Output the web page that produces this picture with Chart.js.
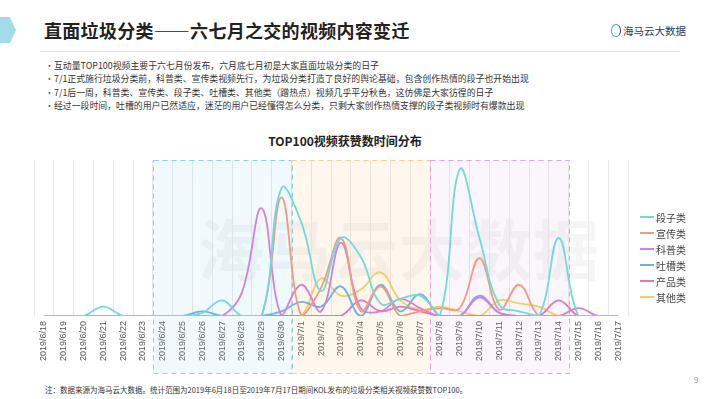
<!DOCTYPE html>
<html lang="zh">
<head>
<meta charset="utf-8">
<script src="https://cdn.jsdelivr.net/npm/chart.js@4.4.1/dist/chart.umd.min.js"></script>
<style>
  body { margin: 0; background: #fff; font-family: "Noto Sans CJK SC", "Noto Sans", sans-serif; }
  #page { position: relative; width: 710px; height: 399px; overflow: hidden; background: #fff; }
  .chevron { position: absolute; left: 0; top: 17px; width: 16px; height: 26px; background: #a3dbe9;
    clip-path: polygon(0 0, 62% 0, 100% 50%, 62% 100%, 0 100%); }
  .title { position: absolute; left: 44px; top: 17px; font-size: 18px; font-weight: 700; color: #222; letter-spacing: 0.3px; }
  .logo { position: absolute; left: 611px; top: 23px; font-size: 10.5px; color: #2c3d5c; display: flex; align-items: center; gap: 2px; }
  .logo i { display: inline-block; width: 8px; height: 11px; border: 1.6px solid #3aa7d3; border-radius: 50%; border-right-color: #2c3d5c; }
  .rule { position: absolute; left: 40px; top: 51px; width: 640px; height: 1px; background: #e3e3e3; }
  .bullets { position: absolute; left: 45px; top: 59px; font-size: 8.9px; color: #333; line-height: 13.4px; }
  .bullets div::before { content: "•"; display: inline-block; width: 9px; color: #555; }
  .ctitle { position: absolute; left: 0; width: 690px; top: 132px; text-align: center; font-size: 12px; font-weight: 700; color: #222; }
  #wrap { position: absolute; left: 0; top: 128px; width: 710px; height: 252px; }
  .wm { position: absolute; left: 198px; top: 198px; font-size: 66px; font-weight: 700; color: rgba(0,0,0,0.04); letter-spacing: 1px; pointer-events: none; }
  .legend { position: absolute; left: 640px; top: 209px; font-size: 10px; color: #444; }
  .legend div { height: 16px; display: flex; align-items: center; }
  .legend span { display: inline-block; width: 14px; height: 2px; margin-right: 2px; }
  .note { position: absolute; left: 45px; top: 384px; font-size: 7.5px; color: #333; }
  .pnum { position: absolute; left: 694px; top: 374px; font-size: 8px; color: #999; }
</style>
</head>
<body>
<div id="page">
  <div class="chevron"></div>
  <div class="title">直面垃圾分类——六七月之交的视频内容变迁</div>
  <div class="logo"><i></i>海马云大数据</div>
  <div class="rule"></div>
  <div class="bullets">
    <div>互动量TOP100视频主要于六七月份发布，六月底七月初是大家直面垃圾分类的日子</div>
    <div>7/1正式施行垃圾分类前，科普类、宣传类视频先行，为垃圾分类打造了良好的舆论基础，包含创作热情的段子也开始出现</div>
    <div>7/1后一周，科普类、宣传类、段子类、吐槽类、其他类（蹭热点）视频几乎平分秋色，这仿佛是大家彷徨的日子</div>
    <div>经过一段时间，吐槽的用户已然适应，迷茫的用户已经懂得怎么分类，只剩大家创作热情支撑的段子类视频时有爆款出现</div>
  </div>
  <div class="ctitle">TOP100视频获赞数时间分布</div>
  <div class="wm">海马云大数据</div>
  <div id="wrap"><canvas id="c"></canvas></div>
  <div class="legend" id="legend"></div>
  <div class="note">注：数据来源为海马云大数据。统计范围为2019年6月18日至2019年7月17日期间KOL发布的垃圾分类相关视频获赞数TOP100。</div>
  <div class="pnum">9</div>
</div>
<script>
// 日期
const dates = ['2019/6/18', '2019/6/19', '2019/6/20', '2019/6/21', '2019/6/22', '2019/6/23', '2019/6/24', '2019/6/25',
  '2019/6/26', '2019/6/27', '2019/6/28', '2019/6/29', '2019/6/30', '2019/7/1', '2019/7/2', '2019/7/3', '2019/7/4',
  '2019/7/5', '2019/7/6', '2019/7/7', '2019/7/8', '2019/7/9', '2019/7/10', '2019/7/11', '2019/7/12', '2019/7/13',
  '2019/7/14', '2019/7/15', '2019/7/16', '2019/7/17'];

// 各类获赞数 (相对值)
const duanzi    = [0, 0, 0, 6, 0, 0, 0, 0, 2, 10, 0, 0, 82, 60, 16, 50, 38, 8, 11, 13, 0, 94, 50, 7, 3, 0, 50, 0, 0, 0];
const xuanchuan = [0, 0, 0, 0, 0, 0, 0, 0, 0, 0, 0, 0, 76, 0, 18, 50, 3, 19, 0, 3, 5, 5, 37, 4, 20, 0, 0, 0, 0, 0];
const kepu      = [0, 0, 0, 0, 0, 0, 0, 0, 0, 0, 15, 69, 0, 20, 3, 47, 5, 3, 11, 5, 0, 0, 12, 2, 0, 0, 0, 5, 0, 0];
const tucao     = [0, 0, 0, 0, 0, 0, 0, 0, 3, 0, 0, 0, 3, 9, 6, 19, 0, 20, 3, 14, 0, 0, 13, 2, 0, 0, 0, 0, 0, 0];
const chanpin   = [0, 0, 0, 0, 0, 0, 0, 0, 0, 0, 0, 0, 0, 0, 0, 0, 10, 3, 6, 3, 0, 0, 0, 0, 0, 0, 10, 0, 0, 0];
const qita      = [0, 0, 0, 0, 0, 0, 0, 0, 0, 0, 0, 0, 0, 0, 24, 13, 17, 28, 10, 4, 6, 3, 0, 10, 8, 6, 0, 0, 0, 0];

const seriesNames = ['段子类', '宣传类', '科普类', '吐槽类', '产品类', '其他类'];
const seriesData = [duanzi, xuanchuan, kepu, tucao, chanpin, qita];
const seriesColors = ['#72d9df', '#f29a82', '#d27fe6', '#6cb5e3', '#ea72b8', '#f6cd5e'];

// 三个阶段
const phaseStart = ['2019/6/24', '2019/7/1', '2019/7/8'];
const phaseEnd = ['2019/6/30', '2019/7/7', '2019/7/14'];
const phaseFill = ['rgba(120,200,230,0.11)', 'rgba(246,196,120,0.13)', 'rgba(215,160,225,0.11)'];
const phaseLine = ['#86d3df', '#f4cf8c', '#d9a4df'];

const phasePlugin = {
  id: 'phases',
  beforeDatasetsDraw(chart) {
    const { ctx, chartArea, scales: { x } } = chart;
    const bottom = chartArea.bottom + 57;
    ctx.save();
    phaseStart.forEach((s, i) => {
      const l = x.getPixelForValue(dates.indexOf(s) - 0.5);
      const r = x.getPixelForValue(dates.indexOf(phaseEnd[i]) + 0.5);
      ctx.fillStyle = phaseFill[i];
      ctx.fillRect(l, chartArea.top, r - l, bottom - chartArea.top);
      ctx.strokeStyle = phaseLine[i];
      ctx.lineWidth = 1;
      ctx.setLineDash([5, 4]);
      ctx.strokeRect(Math.round(l) + 0.5, chartArea.top + 0.5, Math.round(r - l), bottom - chartArea.top);
    });
    ctx.restore();
  }
};

new Chart(document.getElementById('c'), {
  type: 'line',
  data: {
    labels: dates,
    datasets: seriesNames.map((n, i) => ({
      label: n, data: seriesData[i], borderColor: seriesColors[i], backgroundColor: seriesColors[i],
      borderWidth: 1.8, pointRadius: 0, tension: 0.4, fill: false
    }))
  },
  options: {
    responsive: true, maintainAspectRatio: false, animation: false,
    layout: { padding: { left: 34, right: 82, top: 32, bottom: 14 } },
    plugins: { legend: { display: false }, tooltip: { enabled: false } },
    scales: {
      x: {
        offset: true,
        grid: { offset: true, color: '#e9e9e9', drawTicks: false },
        border: { display: false },
        ticks: { autoSkip: false, minRotation: 90, maxRotation: 90, padding: 5, color: '#555',
          font: { family: 'Liberation Sans', size: 9 } }
      },
      y: { display: false, min: 0, max: 100 }
    }
  },
  plugins: [phasePlugin]
});

document.getElementById('legend').innerHTML = seriesNames.map((n, i) =>
  `<div><span style="background:${seriesColors[i]}"></span>${n}</div>`).join('');
</script>
</body>
</html>
